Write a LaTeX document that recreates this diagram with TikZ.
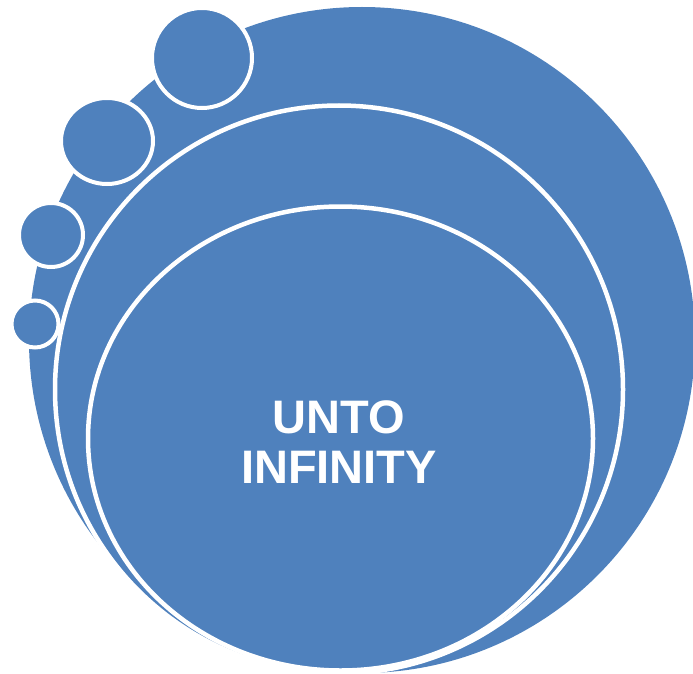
\documentclass[tikz,border=0pt]{standalone}
\usepackage{fontspec}
\setmainfont{Liberation Sans}
\definecolor{accentblue}{HTML}{4F81BD}
\begin{document}
\begin{tikzpicture}[x=1pt,y=-1pt,
  bluefill/.style={fill=accentblue},
  ringline/.style={fill=accentblue,draw=white,line width=4.5pt},
  bubble/.style={fill=accentblue,draw=white,line width=4pt}]
\useasboundingbox (0,0) rectangle (693,674);
% large background circle
\path[bluefill] (362,340) circle[radius=333];
% small bubbles along the rim
\path[bubble] (202,58) circle[radius=50];
\path[bubble] (107,141) ellipse[x radius=46,y radius=43];
\path[bubble] (51,235) circle[radius=32];
\path[bubble] (35,324) circle[radius=23.5];
% middle ring
\path[ringline] (339,389.5) ellipse[x radius=284,y radius=284];
% inner ring
\path[ringline] (340.5,438.5) ellipse[x radius=252.5,y radius=232];
% label
\node[text=white,font=\fontsize{47}{50}\selectfont\bfseries,align=center,inner sep=0pt] (label) at (339,442.5) {UNTO\\INFINITY};
\end{tikzpicture}
\end{document}
